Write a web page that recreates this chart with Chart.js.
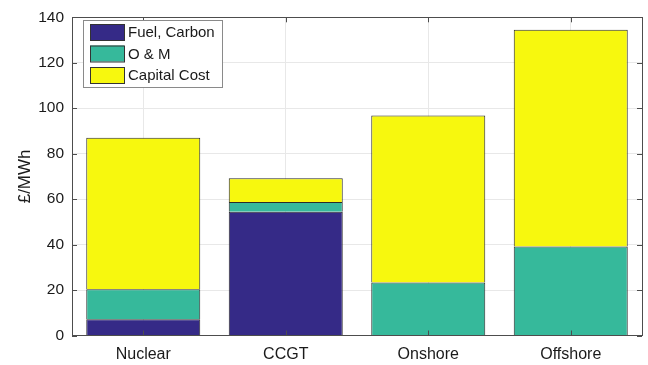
<!DOCTYPE html>
<html>
<head>
<meta charset="utf-8">
<script src="https://cdn.jsdelivr.net/npm/chart.js@4/dist/chart.umd.min.js"></script>
<style>
  html, body { margin: 0; padding: 0; background: #ffffff; }
  #wrap { width: 648px; height: 365px; position: relative; }
</style>
</head>
<body>
<div id="wrap"><canvas id="c" width="648" height="365"></canvas></div>
<script>
// Levelised cost of electricity by technology, £/MWh
const technologies = ['Nuclear', 'CCGT', 'Onshore', 'Offshore'];
const fuelCarbon  = [7.1, 54.4, 0, 0];
const operMaint   = [13.3, 4.3, 23.3, 39.2];
const capitalCost = [66.6, 10.5, 73.5, 95.3];
const yTicks = [0, 20, 40, 60, 80, 100, 120, 140];

const FONT = '"Liberation Sans", Arial, Helvetica, sans-serif';
const AXIS_COLOR = '#4d4d4d';

// Axes box with inward tick marks on all four sides, plus the legend inside the plot.
const framePlugin = {
  id: 'frame',
  afterDatasetsDraw(chart) {
    const { ctx, chartArea: a, scales } = chart;
    ctx.save();
    ctx.strokeStyle = AXIS_COLOR;
    ctx.lineWidth = 1;
    ctx.strokeRect(Math.round(a.left) + 0.5, Math.round(a.top) + 0.5,
                   Math.round(a.right - a.left), Math.round(a.bottom - a.top));
    const tl = 5;
    ctx.beginPath();
    yTicks.forEach(v => {
      const y = Math.round(scales.y.getPixelForValue(v)) + 0.5;
      ctx.moveTo(a.left, y); ctx.lineTo(a.left + tl, y);
      ctx.moveTo(a.right, y); ctx.lineTo(a.right - tl, y);
    });
    technologies.forEach((_, i) => {
      const x = Math.round(scales.x.getPixelForTick(i)) + 0.5;
      ctx.moveTo(x, a.bottom); ctx.lineTo(x, a.bottom - tl);
      ctx.moveTo(x, a.top); ctx.lineTo(x, a.top + tl);
    });
    ctx.stroke();

    // legend
    const lx = 83, ly = 20, lw = 139, lh = 67;
    ctx.fillStyle = '#ffffff';
    ctx.fillRect(lx, ly, lw, lh);
    ctx.strokeStyle = '#8a8a8a';
    ctx.strokeRect(lx + 0.5, ly + 0.5, lw, lh);
    ctx.font = '15px ' + FONT;
    ctx.textBaseline = 'middle';
    chart.data.datasets.forEach((ds, i) => {
      const cy = ly + 12 + i * 21.5;
      ctx.fillStyle = ds.backgroundColor;
      ctx.fillRect(90, cy - 8, 34, 16);
      ctx.strokeStyle = '#333333';
      ctx.strokeRect(90.5, cy - 7.5, 34, 16);
      ctx.fillStyle = '#1a1a1a';
      ctx.fillText(ds.label, 128, cy + 1);
    });
    ctx.restore();
  }
};

const barStyle = { borderColor: '#2b2b2b', borderWidth: 1 };

new Chart(document.getElementById('c'), {
  type: 'bar',
  data: {
    labels: technologies,
    datasets: [
      { label: 'Fuel, Carbon', data: fuelCarbon, backgroundColor: '#352a87', ...barStyle },
      { label: 'O & M', data: operMaint, backgroundColor: '#36b99b', ...barStyle },
      { label: 'Capital Cost', data: capitalCost, backgroundColor: '#f7f80e', ...barStyle }
    ]
  },
  options: {
    responsive: false,
    animation: false,
    devicePixelRatio: 1,
    layout: { padding: { top: 13, right: 6, left: 0, bottom: 0 } },
    datasets: { bar: { categoryPercentage: 1.0, barPercentage: 0.8 } },
    plugins: { legend: { display: false }, tooltip: { enabled: false } },
    scales: {
      x: {
        stacked: true,
        grid: { offset: false, color: '#e8e8e8', drawTicks: false },
        border: { display: false },
        ticks: { color: '#1a1a1a', padding: 9, font: { family: FONT, size: 16 } },
        afterFit(s) { s.height = 29.5; }
      },
      y: {
        stacked: true,
        min: 0, max: 140,
        afterBuildTicks(s) { s.ticks = yTicks.map(v => ({ value: v })); },
        grid: { color: '#e8e8e8', drawTicks: false },
        border: { display: false },
        ticks: { color: '#1a1a1a', padding: 8, font: { family: FONT, size: 15.5 } },
        title: {
          display: true, text: '£/MWh', color: '#1a1a1a',
          font: { family: FONT, size: 17 },
          padding: { top: 15, bottom: 0 }
        },
        afterFit(s) { s.width = 72; }
      }
    }
  },
  plugins: [framePlugin]
});
</script>
</body>
</html>
